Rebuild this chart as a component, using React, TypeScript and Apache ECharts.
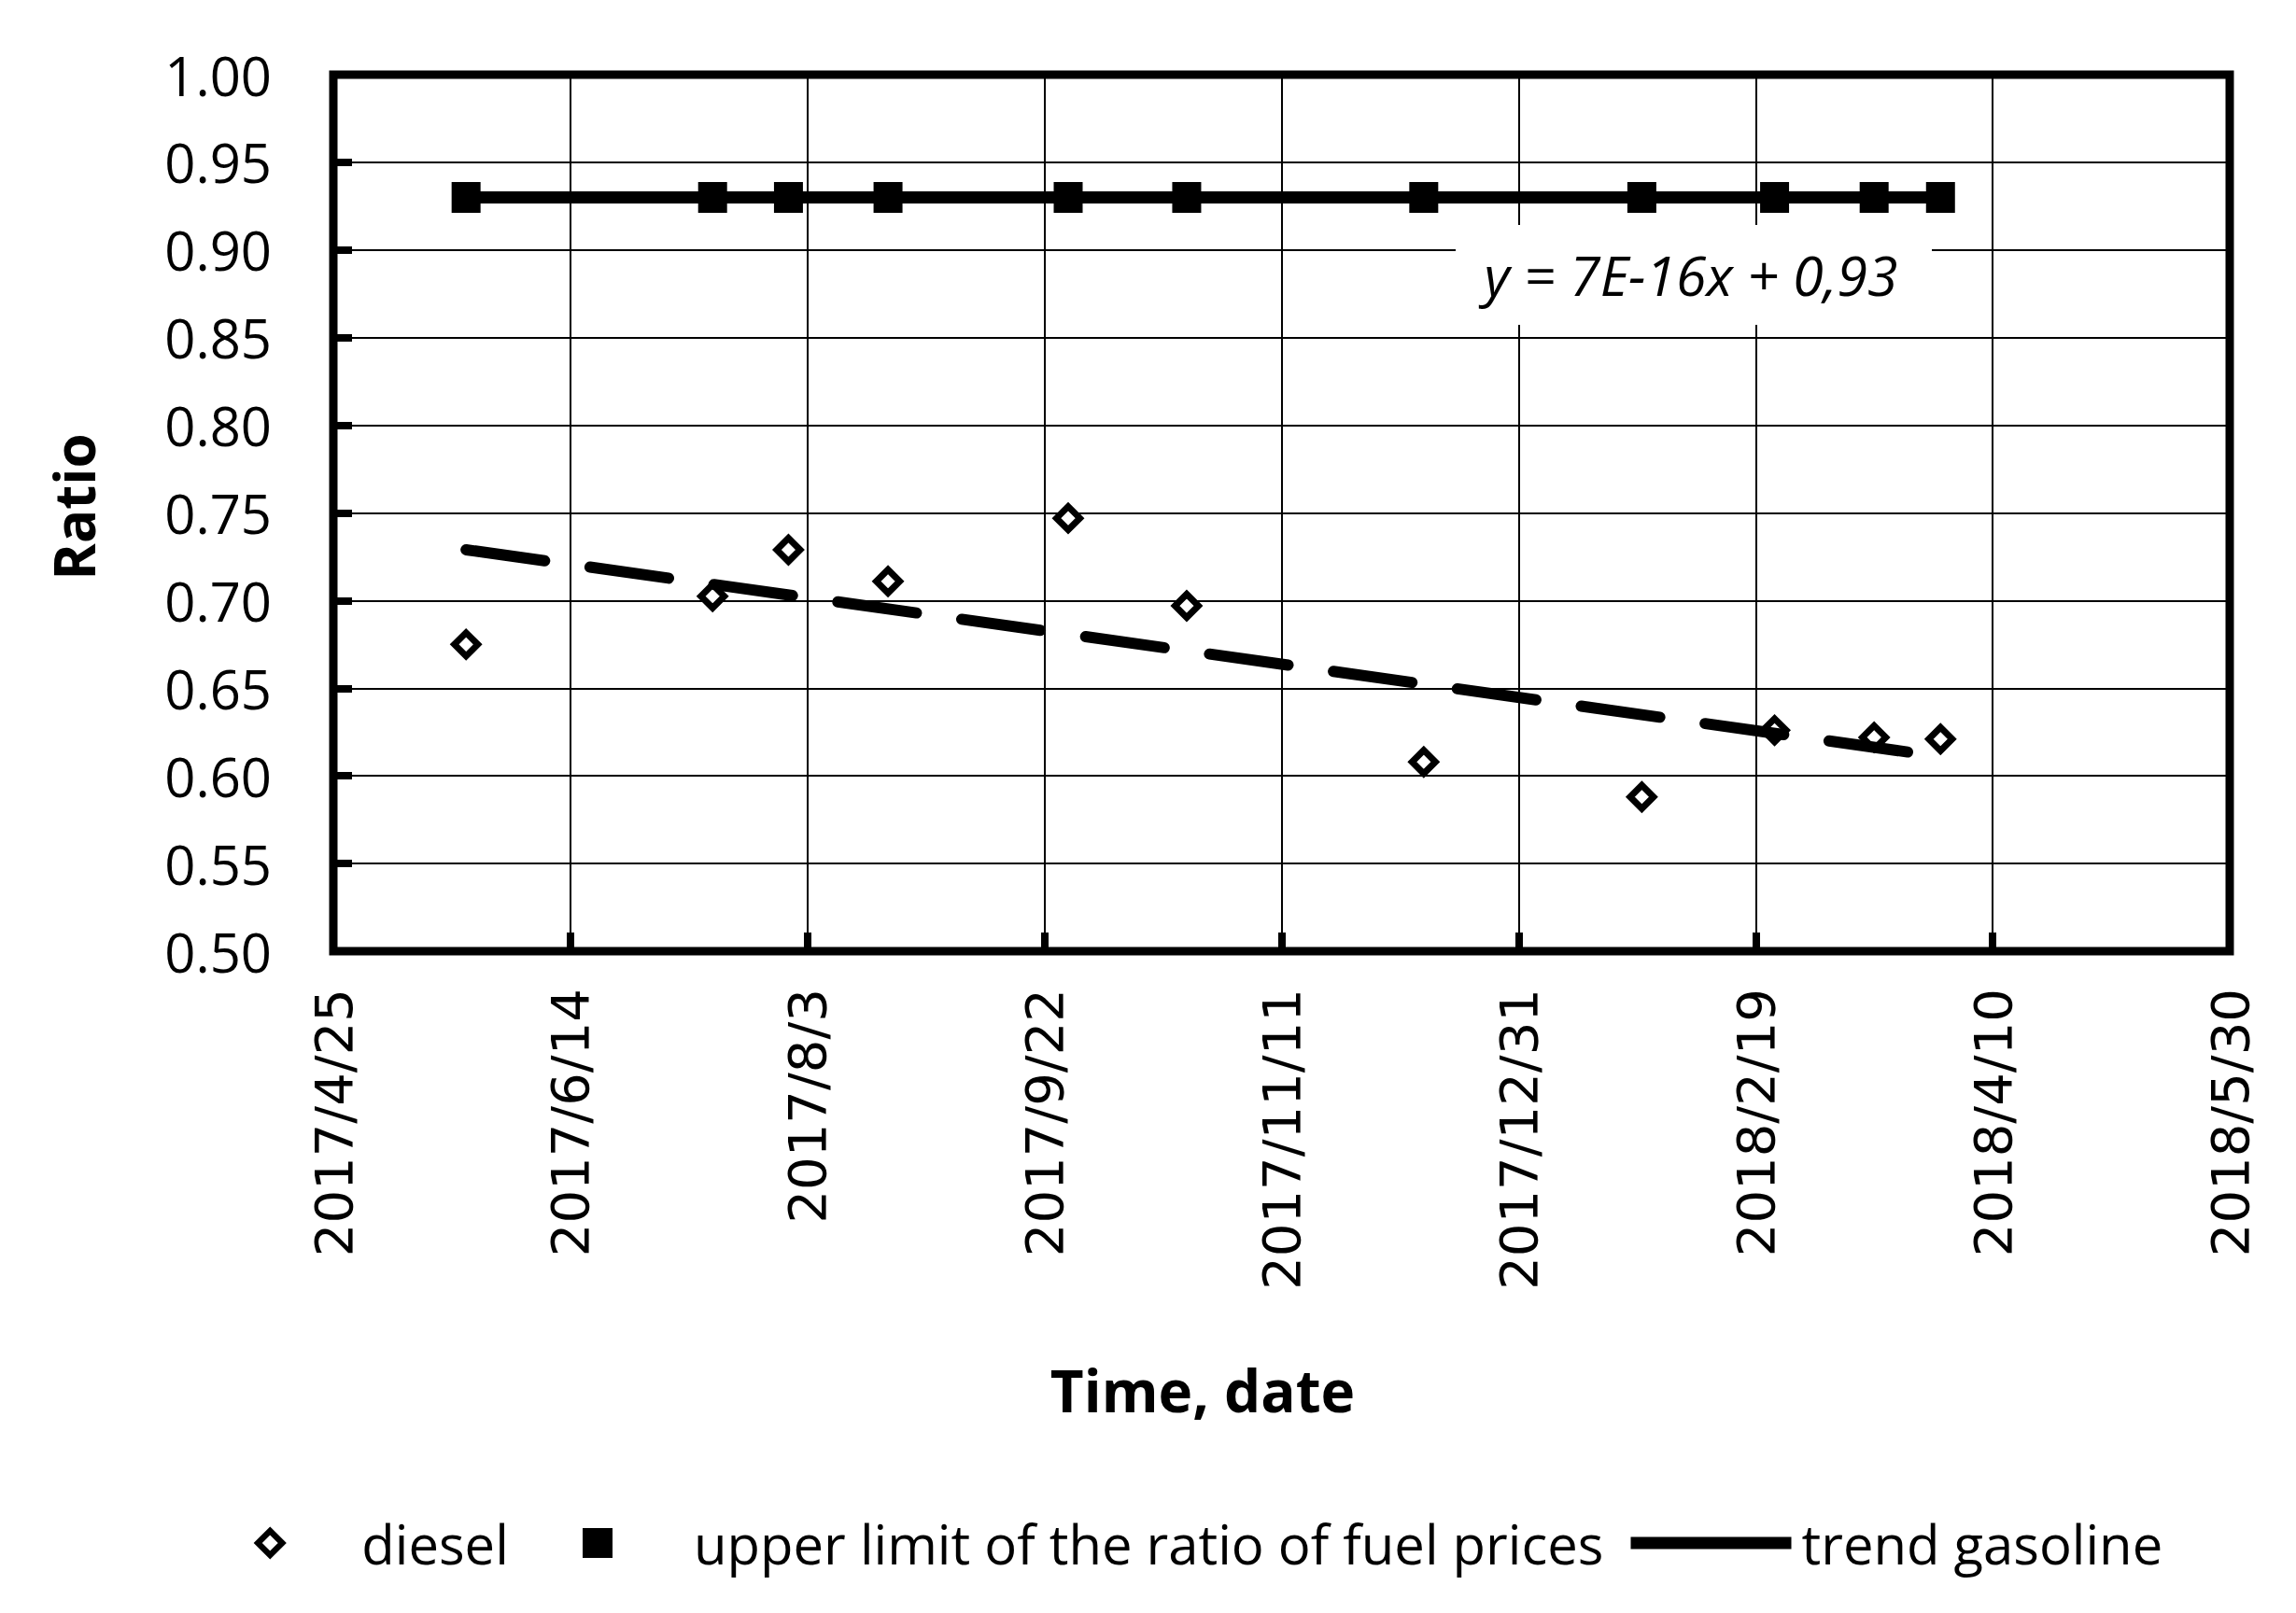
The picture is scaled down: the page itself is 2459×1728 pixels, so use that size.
import React, { useEffect, useRef } from "react";
import * as echarts from "echarts";

// ---- data ----
const sampleDates = [
  "2017-05-23", "2017-07-14", "2017-07-30", "2017-08-20", "2017-09-27", "2017-10-22",
  "2017-12-11", "2018-01-26", "2018-02-23", "2018-03-16", "2018-03-30",
];
const dieselValues = [0.675, 0.7025, 0.729, 0.711, 0.747, 0.697, 0.608, 0.588, 0.626, 0.622, 0.621];
const upperLimitValues = [0.93, 0.93, 0.93, 0.93, 0.93, 0.93, 0.93, 0.93, 0.93, 0.93, 0.93];
// trend lines: values at first and last sample date
const dieselTrendEnds = [0.729, 0.611];
const gasolineTrendEnds = [0.93, 0.93];
const xAxisStart = "2017-04-25";
const xAxisEnd = "2018-05-30";
const xStepDays = 50;
const yMin = 0.5;
const yMax = 1.0;
const yStep = 0.05;
const trendEquation = "y = 7E-16x + 0,93";
const seriesNames = ["diesel", "upper limit of the ratio of fuel prices", "trend gasoline"];

const DAY = 86400000;
const EPOCH = Date.UTC(1899, 11, 30);
function toSerial(s: string): number {
  const [y, m, d] = s.split("-").map(Number);
  return Math.round((Date.UTC(y, m - 1, d) - EPOCH) / DAY);
}
function serialLabel(v: number): string {
  const d = new Date(EPOCH + Math.round(v) * DAY);
  return `${d.getUTCFullYear()}/${d.getUTCMonth() + 1}/${d.getUTCDate()}`;
}

export default function App() {
  const ref = useRef<HTMLDivElement>(null);
  useEffect(() => {
    if (!ref.current) return;
    const chart = echarts.init(ref.current, undefined, { renderer: "svg" });
    const xs = sampleDates.map(toSerial);
    const first = xs[0];
    const last = xs[xs.length - 1];
    const legendFont = { fontFamily: "Open Sans", fontSize: 58, color: "#000" };
    const legendTop = 1624;

    chart.setOption({
      animation: false,
      backgroundColor: "#fff",
      grid: {
        left: 357, top: 80, right: 71, bottom: 709,
        show: true, borderColor: "#000", borderWidth: 9, backgroundColor: "transparent",
      },
      xAxis: {
        type: "value",
        min: toSerial(xAxisStart),
        max: toSerial(xAxisEnd),
        interval: xStepDays,
        axisLine: { show: false },
        axisTick: { show: true, inside: true, length: 20, lineStyle: { color: "#000", width: 8 } },
        splitLine: { show: true, lineStyle: { color: "#000", width: 2 } },
        axisLabel: {
          rotate: 90, margin: 40, fontFamily: "DejaVu Sans", fontSize: 56, color: "#000",
          formatter: (v: number) => serialLabel(v),
        },
      },
      yAxis: {
        type: "value",
        min: yMin, max: yMax, interval: yStep,
        axisLine: { show: false },
        axisTick: { show: true, inside: true, length: 20, lineStyle: { color: "#000", width: 8 } },
        splitLine: { show: true, lineStyle: { color: "#000", width: 2 } },
        axisLabel: {
          margin: 66, fontFamily: "Open Sans", fontSize: 58, color: "#000",
          formatter: (v: number) => v.toFixed(2),
        },
      },
      legend: [
        {
          data: [seriesNames[0]], left: 273, top: legendTop, itemWidth: 26, itemHeight: 26,
          padding: 0, selectedMode: false,
          textStyle: { ...legendFont, padding: [0, 0, 0, 80] },
          itemStyle: { color: "#fff", borderColor: "#000", borderWidth: 6.5, opacity: 1 },
        },
        {
          data: [seriesNames[1]], left: 624, top: legendTop, itemWidth: 32, itemHeight: 32,
          padding: 0, selectedMode: false,
          textStyle: { ...legendFont, padding: [0, 0, 0, 82] },
          itemStyle: { color: "#000", borderWidth: 0, opacity: 1 },
        },
        {
          data: [seriesNames[2]], left: 1740, top: legendTop, itemWidth: 172, itemHeight: 14,
          padding: 0, selectedMode: false,
          textStyle: { ...legendFont, padding: [0, 0, 0, 6] },
          lineStyle: { color: "#000", width: 13 },
          itemStyle: { color: "#000", borderWidth: 0, opacity: 1 },
        },
      ],
      series: [
        {
          name: seriesNames[0],
          type: "scatter",
          data: xs.map((x, i) => [x, dieselValues[i]]),
          symbol: "diamond",
          symbolSize: 25,
          itemStyle: { color: "#fff", borderColor: "#000", borderWidth: 7, opacity: 1 },
          z: 2,
        },
        {
          name: "diesel linear trend",
          type: "line",
          data: [[first, dieselTrendEnds[0]], [last, dieselTrendEnds[1]]],
          symbol: "none",
          lineStyle: { color: "#000", width: 12, type: [85, 49], cap: "round" },
          z: 3,
        },
        {
          name: seriesNames[1],
          type: "scatter",
          data: xs.map((x, i) => [x, upperLimitValues[i]]),
          symbol: "rect",
          symbolSize: [31, 33],
          itemStyle: { color: "#000", opacity: 1 },
          z: 4,
        },
        {
          name: seriesNames[2],
          type: "line",
          data: [[first, gasolineTrendEnds[0]], [last, gasolineTrendEnds[1]]],
          symbol: "none",
          itemStyle: { color: "#000" },
          lineStyle: { color: "#000", width: 13 },
          z: 4,
        },
      ],
      graphic: [
        {
          type: "rect", z: 100,
          shape: { x: 1559, y: 241, width: 510, height: 107 },
          style: { fill: "#fff" },
        },
        {
          type: "text", z: 101, x: 1811, y: 294,
          style: {
            text: trendEquation, fill: "#000", fontFamily: "Open Sans", fontSize: 59,
            fontStyle: "italic", align: "center", verticalAlign: "middle",
          },
        },
        {
          type: "text", z: 101, x: 79, y: 543, rotation: Math.PI / 2,
          style: {
            text: "Ratio", fill: "#000", fontFamily: "Open Sans", fontSize: 60,
            fontWeight: "bold", align: "center", verticalAlign: "middle",
          },
        },
        {
          type: "text", z: 101, x: 1288, y: 1489,
          style: {
            text: "Time, date", fill: "#000", fontFamily: "Open Sans", fontSize: 62,
            fontWeight: "bold", align: "center", verticalAlign: "middle",
          },
        },
      ],
    });
    return () => chart.dispose();
  }, []);
  return (
    <div
      ref={ref}
      style={{ position: "absolute", left: 0, top: 0, width: 2459, height: 1728, background: "#fff" }}
    />
  );
}
